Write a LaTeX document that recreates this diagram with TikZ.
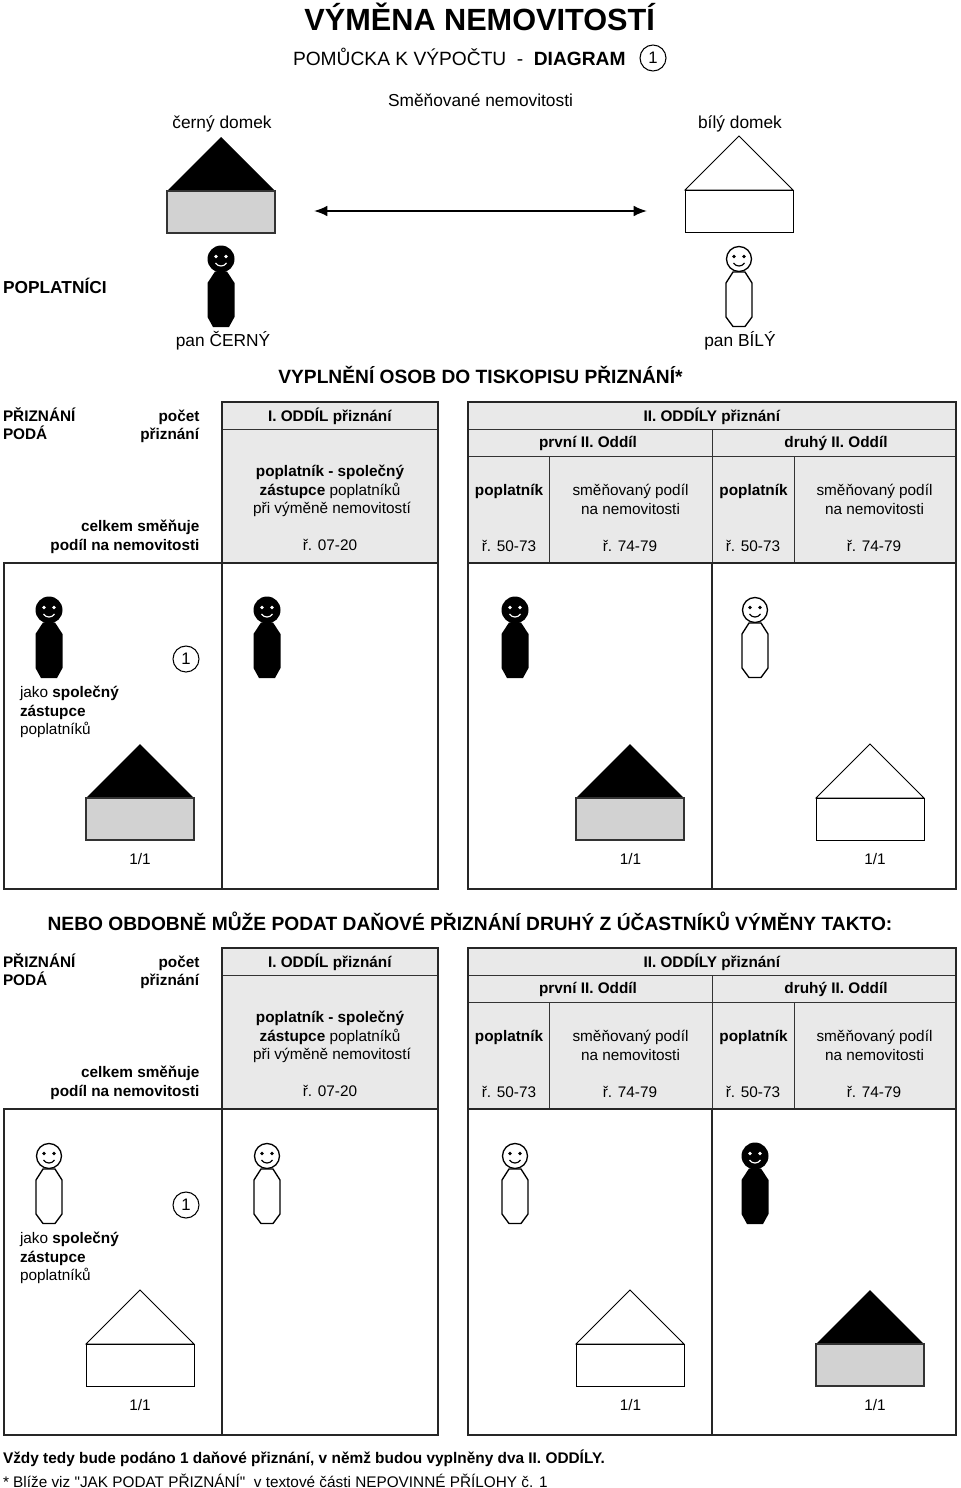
\documentclass[tikz,border=0pt]{standalone}
\usepackage{fontspec}
\usetikzlibrary{arrows.meta}
\setmainfont{Liberation Sans}
\newfontfamily\plainq{Liberation Sans}
\definecolor{hdr}{gray}{0.915}
\definecolor{wall}{gray}{0.825}
\tikzset{
  x=0.75pt,y=-0.75pt,
  lab/.style={inner sep=0pt,outer sep=0pt,anchor=base,font=\fontsize{11.5pt}{14pt}\selectfont},
  labl/.style={lab,anchor=base west},
  labr/.style={lab,anchor=base east},
  big/.style={font=\fontsize{13pt}{16pt}\selectfont},
  head/.style={font=\fontsize{14.4pt}{17pt}\selectfont},
  heavy/.style={line width=1.5pt,draw=black!85},
  thin line/.style={line width=0.75pt,draw=black!80},
  ring/.style={circle,draw=black,line width=0.8pt,minimum size=19.5pt,inner sep=0pt,font=\fontsize{12.5pt}{14pt}\selectfont},
  pics/blackhouse/.style={code={
    \fill[black] (-54,54)--(0,0)--(54,54)--cycle;
    \draw[fill=wall,draw=black!80,line width=0.8pt] (-54,54) rectangle (54,96);}},
  pics/whitehouse/.style={code={
    \draw[line width=0.7pt,fill=white] (-54,54)--(0,0)--(54,54)--cycle;
    \draw[fill=white,line width=0.7pt] (-54,54) rectangle (54,96);}},
  pics/blackman/.style={code={
    \fill[black] (0,0) circle (13.5);
    \fill[white] (-5,-2.5) circle (1.8) (5,-2.5) circle (1.8);
    \draw[white,line width=0.9pt] (-5.5,4) .. controls (-3,8) and (3,8) .. (5.5,4);
    \fill[black] (-6,12.5)--(6,12.5)--(13.5,24)--(13.5,58)--(8,68)--(-8,68)--(-13.5,58)--(-13.5,24)--cycle;}},
  pics/whiteman/.style={code={
    \draw[line width=1pt] (0,0) circle (12.5);
    \fill[black] (-5,-2.5) circle (1.8) (5,-2.5) circle (1.8);
    \draw[black,line width=0.9pt] (-5.5,4) .. controls (-3,8) and (3,8) .. (5.5,4);
    \draw[line width=1pt,fill=white] (-6,13)--(6,13)--(13,24)--(13,58)--(6,67.5)--(-6,67.5)--(-13,58)--(-13,24)--cycle;}},
}
% #1 vertical offset, #2 prefix, #3 pic of first side, #4 pic of second side
\newcommand{\formblock}[4]{%
  \begin{scope}[yshift=-0.75pt*#1]
  \fill[hdr] (222,402) rectangle (438,563);
  \fill[hdr] (468,402) rectangle (956,563);
  \draw[thin line] (222,429)--(438,429);
  \draw[thin line] (468,429)--(956,429);
  \draw[thin line] (468,456)--(956,456);
  \draw[thin line] (712,429)--(712,563);
  \draw[thin line] (549,456)--(549,563);
  \draw[thin line] (794,456)--(794,563);
  \draw[heavy] (222,402) rectangle (438,563);
  \draw[heavy] (468,402) rectangle (956,563);
  \draw[heavy] (4,563) rectangle (438,889);
  \draw[heavy] (222,563)--(222,889);
  \draw[heavy] (468,563) rectangle (956,889);
  \draw[heavy] (712,563)--(712,889);
  \node[labl] (#2a) at (3,421) {\textbf{PŘIZNÁNÍ}};
  \node[labl] (#2b) at (3,439) {\textbf{PODÁ}};
  \node[labr] (#2c) at (199.5,421) {\textbf{počet}};
  \node[labr] (#2d) at (199.5,439) {\textbf{přiznání}};
  \node[labr] (#2e) at (199.5,531) {\textbf{celkem směňuje}};
  \node[labr] (#2f) at (199.5,550) {\textbf{podíl na nemovitosti}};
  \node[lab] (#2g) at (330,421) {\textbf{I. ODDÍL} \textbf{přiznání}};
  \node[lab] (#2h) at (330,476) {\textbf{poplatník - společný}};
  \node[lab] (#2i) at (330,495) {\textbf{zástupce} poplatníků};
  \node[lab] (#2j) at (332,513) {při výměně nemovitostí};
  \node[lab] (#2k) at (330,550) {ř. 07-20};
  \node[lab] (#2l) at (712,421) {\textbf{II. ODDÍLY přiznání}};
  \node[lab] (#2m) at (588,447) {\textbf{první II. Oddíl}};
  \node[lab] (#2n) at (836,447) {\textbf{druhý II. Oddíl}};
  \node[lab] (#2o) at (509,495) {\textbf{poplatník}};
  \node[lab] (#2p) at (630.5,495) {směňovaný podíl};
  \node[lab] (#2q) at (630.5,514) {na nemovitosti};
  \node[lab] (#2r) at (753.5,495) {\textbf{poplatník}};
  \node[lab] (#2s) at (874.5,495) {směňovaný podíl};
  \node[lab] (#2t) at (874.5,514) {na nemovitosti};
  \node[lab] (#2u) at (509,551) {ř. 50-73};
  \node[lab] (#2v) at (630,551) {ř. 74-79};
  \node[lab] (#2w) at (753,551) {ř. 50-73};
  \node[lab] (#2x) at (874,551) {ř. 74-79};
  \pic at (49,610) {#3man};
  \pic at (267,610) {#3man};
  \pic at (515,610) {#3man};
  \pic at (755,610) {#4man};
  \node[ring] (#2y) at (186,659) {1};
  \node[labl] (#2z) at (20,697) {jako \textbf{společný}};
  \node[labl] (#2A) at (20,716) {\textbf{zástupce}};
  \node[labl] (#2B) at (20,734) {poplatníků};
  \pic at (140,744) {#3house};
  \pic at (630,744) {#3house};
  \pic at (870,744) {#4house};
  \node[lab] (#2C) at (140,864) {1/1};
  \node[lab] (#2D) at (630.5,864) {1/1};
  \node[lab] (#2E) at (875,864) {1/1};
  \end{scope}}
\begin{document}
\begin{tikzpicture}
\useasboundingbox (0,0) rectangle (960,1488);
\fill[white] (0,0) rectangle (960,1488);
\node[lab,font=\fontsize{23pt}{27pt}\selectfont] (title) at (480,31) {\textbf{VÝMĚNA NEMOVITOSTÍ}};
\node[labl,head] (sub) at (293,65) {POMŮCKA K VÝPOČTU\hspace{0.55em}-\hspace{0.55em}\textbf{DIAGRAM}};
\node[ring] (subone) at (653,58) {1};
\node[lab,big] (exch) at (480.5,106) {Směňované nemovitosti};
\node[lab,big] (bdom) at (222,128) {černý domek};
\node[lab,big] (wdom) at (740,128) {bílý domek};
\pic at (221,137) {blackhouse};
\pic at (739,136) {whitehouse};
\coordinate (arrL) at (314,211);
\coordinate (arrR) at (647,211);
\draw[line width=1.3pt,{Latex[length=10pt,width=8pt]}-{Latex[length=10pt,width=8pt]}] (arrL)--(arrR);
\node[labl,big] (payers) at (3,293) {\textbf{POPLATNÍCI}};
\pic at (221,259) {blackman};
\pic at (739,259) {whiteman};
\node[lab,big] (pc) at (223,346) {pan ČERNÝ};
\node[lab,big] (pb) at (740,346) {pan BÍLÝ};
\node[lab,head] (fill) at (480.5,383) {\textbf{VYPLNĚNÍ OSOB DO TISKOPISU PŘIZNÁNÍ*}};
\formblock{0}{p}{black}{white}
\node[lab,head] (nebo) at (470,930) {\textbf{NEBO OBDOBNĚ MŮŽE PODAT DAŇOVÉ PŘIZNÁNÍ DRUHÝ Z ÚČASTNÍKŮ VÝMĚNY TAKTO:}};
\formblock{546}{q}{white}{black}
\node[labl,font=\fontsize{11.55pt}{14pt}\selectfont] (foot1) at (3,1463) {\textbf{Vždy tedy bude podáno 1 daňové přiznání, v němž budou vyplněny dva II. ODDÍLY.}};
\node[labl,font=\fontsize{11.5pt}{14pt}\selectfont] (foot2) at (3,1487) {* Blíže viz {\plainq"}JAK PODAT PŘIZNÁNÍ{\plainq"}\ \ v textové části NEPOVINNÉ PŘÍLOHY č. 1};
\end{tikzpicture}
\end{document}
